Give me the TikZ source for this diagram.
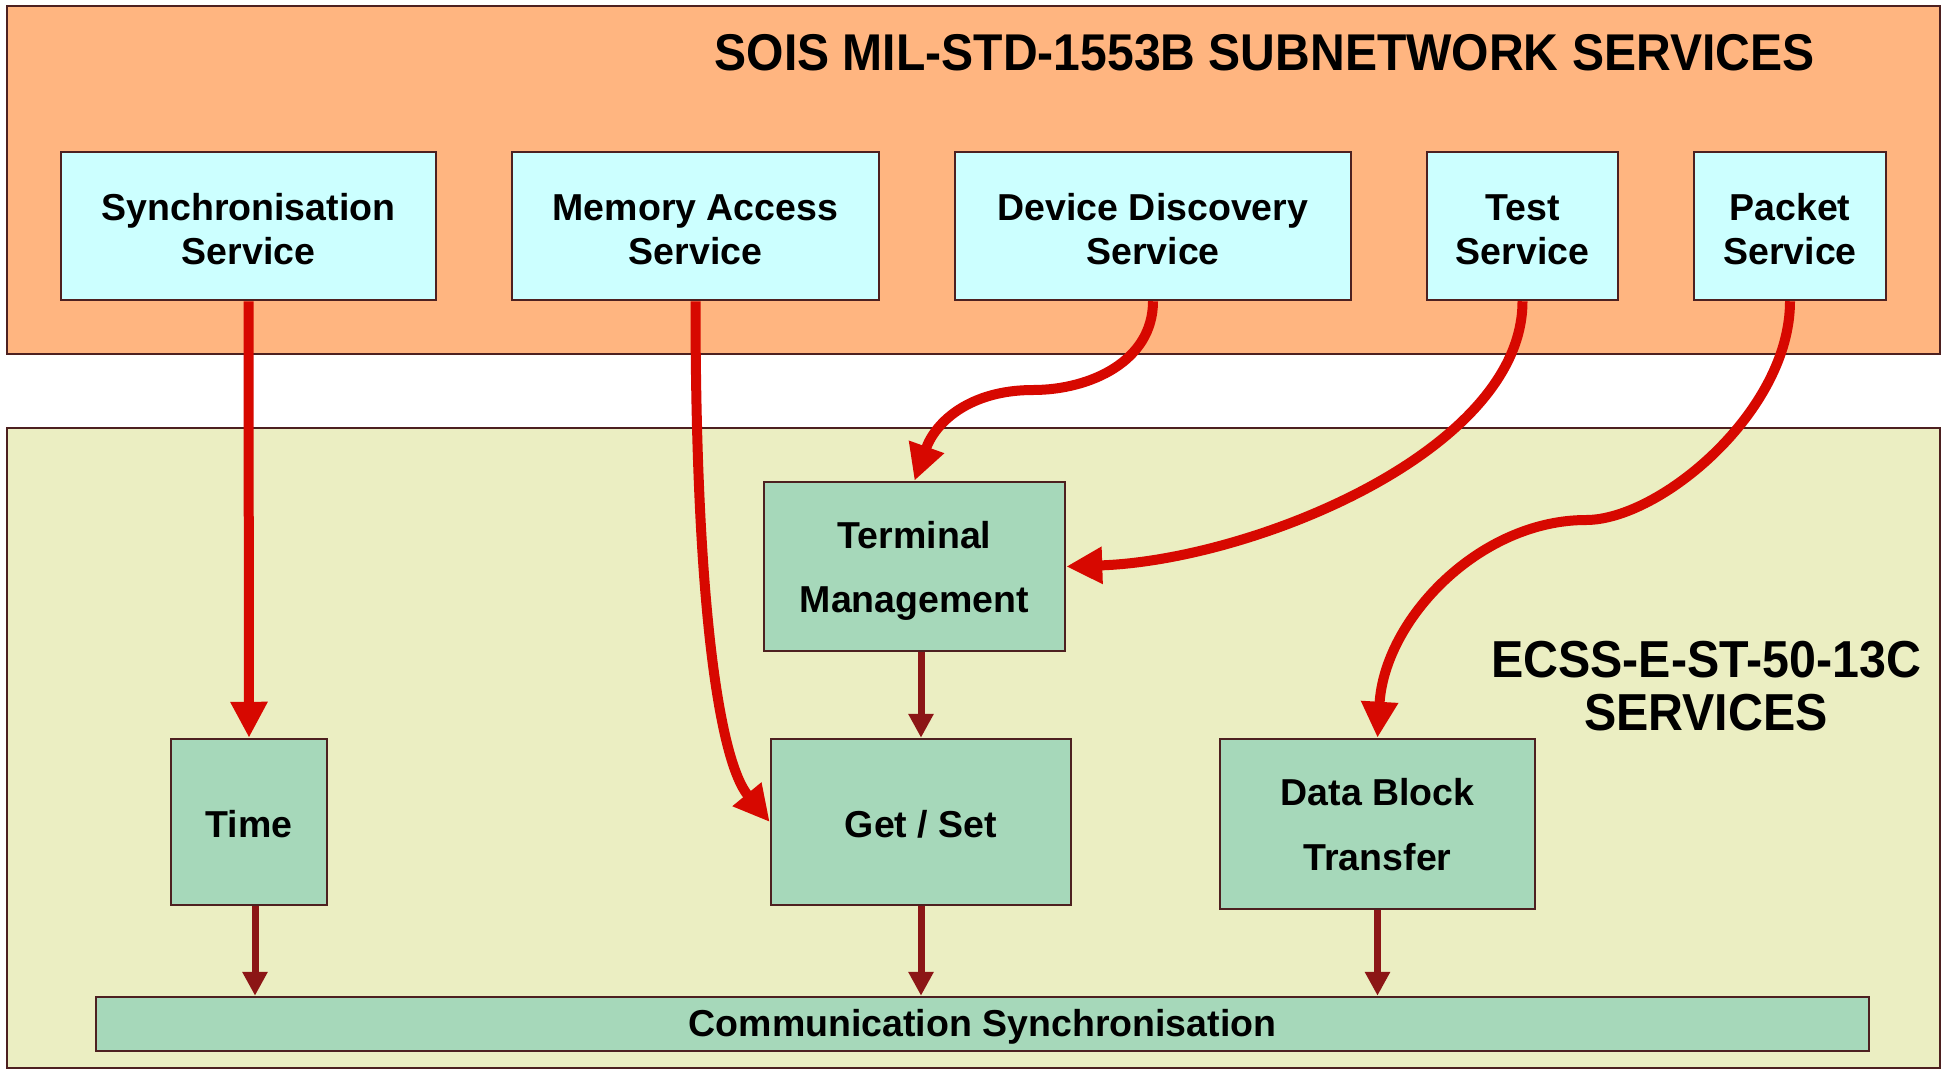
\documentclass[tikz,border=0pt]{standalone}
\usepackage{fontspec}
\setmainfont{Liberation Sans}
\newfontfamily\headfont{Liberation Sans}[FakeStretch=0.93]
\usetikzlibrary{arrows.meta}

\definecolor{bandorange}{RGB}{255,181,128}
\definecolor{bandolive}{RGB}{235,238,194}
\definecolor{svccyan}{RGB}{204,255,255}
\definecolor{blockgreen}{RGB}{166,216,186}
\definecolor{edgebrown}{RGB}{77,32,32}
\definecolor{flowred}{RGB}{215,8,0}
\definecolor{linkred}{RGB}{140,22,22}

% text framed by invisible struts: #1 = height above first baseline,
% #2 = depth below last baseline, #3 = the lines themselves
\newcommand\padtext[3]{\rule{0pt}{#1pt}#3\rule[-#2pt]{0pt}{0pt}}

\begin{document}
\begin{tikzpicture}[x=1pt,y=-1pt,
  band/.style={draw=edgebrown, line width=2pt, inner sep=0pt},
  svcbox/.style={draw=edgebrown, line width=2.5pt, fill=svccyan, inner sep=0pt,
    align=center, font=\fontsize{37.5}{44}\selectfont\bfseries},
  ecssbox/.style={draw=edgebrown, line width=2.5pt, fill=blockgreen, inner sep=0pt,
    align=center, font=\fontsize{37.5}{64.5}\selectfont\bfseries},
  heading/.style={inner sep=0pt, align=center, font=\headfont\bfseries},
  flow/.style={draw=flowred, line width=10pt, -{Triangle[length=36pt,width=35pt]}},
  link/.style={draw=linkred, line width=7pt, -{Triangle[length=24pt,width=24pt]}},
]
\fill[white] (0,0) rectangle (1943,1069);
\useasboundingbox (0,0) rectangle (1943,1069);

% the two service layers
\node[band, fill=bandorange, minimum width=1933pt, minimum height=348pt] (sois) at (973.5,180) {};
\node[band, fill=bandolive, minimum width=1933pt, minimum height=640pt] (ecss) at (973.5,748) {};

\node[heading, anchor=base, font=\headfont\bfseries\fontsize{51.7}{54}\selectfont] (soistitle)
  at (1264.5,70) {SOIS MIL-STD-1553B SUBNETWORK SERVICES};
\node[heading, font=\headfont\bfseries\fontsize{52}{53}\selectfont] (ecsstitle)
  at (1706,683.5) {\padtext{50}{10}{ECSS-E-ST-50-13C\\SERVICES}};

% SOIS subnetwork services
\node[svcbox, minimum width=375pt, minimum height=148pt] (sync) at (248.5,226) {\padtext{42}{10}{Synchronisation\\Service}};
\node[svcbox, minimum width=367pt, minimum height=148pt] (mem)  at (695.5,226) {\padtext{42}{10}{Memory Access\\Service}};
\node[svcbox, minimum width=396pt, minimum height=148pt] (dev)  at (1153,226)  {\padtext{42}{10}{Device Discovery\\Service}};
\node[svcbox, minimum width=191pt, minimum height=148pt] (test) at (1522.5,226) {\padtext{42}{10}{Test\\Service}};
\node[svcbox, minimum width=192pt, minimum height=148pt] (pkt)  at (1790,226)  {\padtext{42}{10}{Packet\\Service}};

% ECSS services
\node[ecssbox, minimum width=301pt, minimum height=169pt] (term) at (914.5,566.5) {\padtext{38}{10}{Terminal\\Management}};
\node[ecssbox, minimum width=156pt, minimum height=166pt] (time) at (249,822) {\padtext{40}{10}{Time}};
\node[ecssbox, minimum width=300pt, minimum height=166pt] (gs)   at (921,822) {\padtext{40}{10}{Get / Set}};
\node[ecssbox, minimum width=315pt, minimum height=170pt] (dbt)  at (1377.5,824) {\padtext{38}{10}{Data Block\\Transfer}};
\node[ecssbox, minimum width=1773pt, minimum height=54pt] (comm) at (982.5,1024) {\padtext{35.4}{10}{Communication Synchronisation}};

\coordinate (devbend) at (1033,390);
\coordinate (pktbend) at (1586,520);

% mappings from SOIS services to ECSS services
\draw[flow] (sync.south) -- (time.north);
\draw[flow] (mem.south) .. controls +(0,300) and +(-51,-62) .. (gs.west);
\draw[flow] (dev.south) .. controls +(0,60) and +(57,0) .. (devbend)
  .. controls +(-63,0) and +(21,-59) .. (term.north);
\draw[flow] (test.south) .. controls +(0,150) and +(185,-6) .. (term.east);
\draw[flow] (pkt.south) .. controls +(0,110) and +(74,0) .. (pktbend)
  .. controls +(-106,0) and +(7,-119) .. (dbt.north);

% internal ECSS dependencies
\draw[link] (term.south -| gs.north) -- (gs.north);
\draw[link] ([xshift=6pt]time.south) -- ([xshift=6pt]time.south |- comm.north);
\draw[link] (gs.south) -- (gs.south |- comm.north);
\draw[link] (dbt.south) -- (dbt.south |- comm.north);
\end{tikzpicture}
\end{document}
